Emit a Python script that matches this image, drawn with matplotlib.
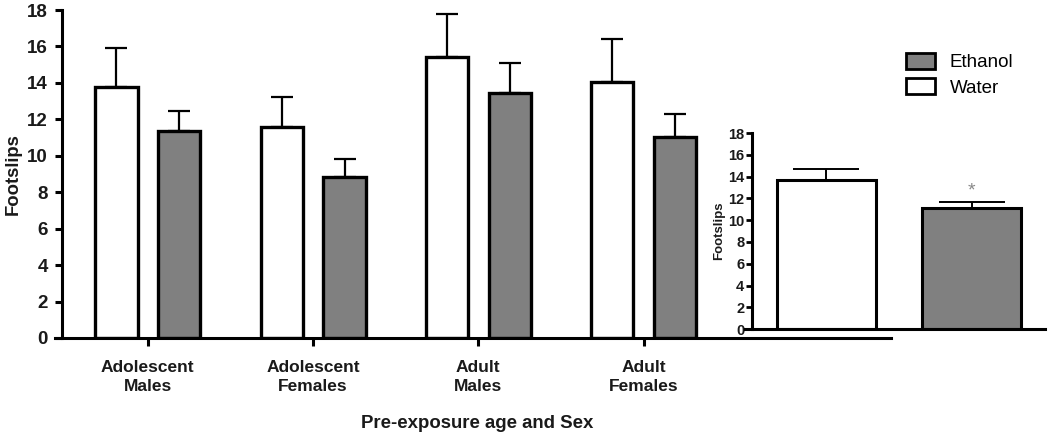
import numpy as np
import matplotlib as mpl
mpl.use('Agg')
import matplotlib.pyplot as plt
from matplotlib.patches import Patch

mpl.rc('font', family='Liberation Sans')
mpl.rc('axes', linewidth=2.2)

# --- data -------------------------------------------------
groups = ['Adolescent\nMales', 'Adolescent\nFemales', 'Adult\nMales', 'Adult\nFemales']
water = [13.8, 11.6, 15.4, 14.05]
water_err = [2.1, 1.6, 2.4, 2.35]
ethanol = [11.35, 8.85, 13.45, 11.05]
ethanol_err = [1.1, 0.95, 1.65, 1.25]

pooled_labels = ['Water', 'Ethanol']
pooled = [13.7, 11.1]
pooled_err = [1.0, 0.6]

grey = '#808080'
ink = '#1a1a1a'

fig = plt.figure(figsize=(10.5, 4.33), dpi=100)

# --- main panel -------------------------------------------
ax = fig.add_axes([0.059, 0.2194, 0.79, 0.7575])
x = np.arange(len(groups))
off, bw = 0.19, 0.255
ax.bar(x - off, water, bw, color='white', edgecolor='black', linewidth=2.4, zorder=2)
ax.bar(x + off, ethanol, bw, color=grey, edgecolor='black', linewidth=2.4, zorder=2)
ax.errorbar(x - off, water, yerr=[np.zeros(4), water_err], fmt='none',
            ecolor='black', elinewidth=1.6, capsize=8, capthick=1.6, zorder=1)
ax.errorbar(x + off, ethanol, yerr=[np.zeros(4), ethanol_err], fmt='none',
            ecolor='black', elinewidth=1.6, capsize=8, capthick=1.6, zorder=1)

ax.set_xlim(-0.52, 4.50)
ax.set_ylim(0, 18)
ax.set_yticks(range(0, 19, 2))
ax.set_xticks(x)
ax.set_xticklabels(groups, fontsize=12.5, fontweight='bold', color=ink, linespacing=1.35)
for lab in ax.get_yticklabels():
    lab.set_fontsize(13.5)
    lab.set_fontweight('bold')
    lab.set_color(ink)
ax.tick_params(axis='y', direction='out', length=5, width=2.2, pad=5)
ax.tick_params(axis='x', direction='out', length=6, width=2.2, pad=10)
ax.spines['top'].set_visible(False)
ax.spines['right'].set_visible(False)
ax.spines['bottom'].set_bounds(-0.52 - 7 / 165, 4.50)
ax.set_ylabel('Footslips', fontsize=13.3, fontweight='bold', color=ink, labelpad=4)
ax.set_xlabel('Pre-exposure age and Sex', fontsize=13.4, fontweight='bold', color=ink, labelpad=15)

# --- inset: pooled ----------------------------------------
ins = fig.add_axes([0.716, 0.240, 0.279, 0.4527])
px = np.arange(2)
ins.bar(px, pooled, 0.68, color=['white', grey], edgecolor='black', linewidth=2.2, zorder=2)
ins.errorbar(px, pooled, yerr=[np.zeros(2), pooled_err], fmt='none',
             ecolor='black', elinewidth=1.4, capsize=24, capthick=1.4, zorder=1)
ins.text(1, pooled[1] + pooled_err[1] + 0.2, '*', ha='center', va='bottom',
         fontsize=14, color='#888888')
ins.set_xlim(-0.51, 1.50)
ins.set_ylim(0, 18)
ins.set_yticks(range(0, 19, 2))
ins.set_xticks([])
ins.patch.set_alpha(0)
for lab in ins.get_yticklabels():
    lab.set_fontsize(10.5)
    lab.set_fontweight('bold')
    lab.set_color(ink)
ins.tick_params(axis='y', direction='out', length=4, width=2, pad=1.5)
ins.spines['top'].set_visible(False)
ins.spines['right'].set_visible(False)
ins.spines['bottom'].set_bounds(-0.51 - 7 / 146, 1.50)
ins.set_ylabel('Footslips', fontsize=9.5, fontweight='bold', color=ink, labelpad=2)

# --- legend -----------------------------------------------
handles = [Patch(facecolor=grey, edgecolor='black', linewidth=2),
           Patch(facecolor='white', edgecolor='black', linewidth=2)]
fig.legend(handles, ['Ethanol', 'Water'], loc='upper left',
           bbox_to_anchor=(0.856, 0.895), frameon=False, fontsize=13.5,
           handlelength=1.55, handleheight=0.95, handletextpad=0.75,
           labelspacing=0.35, borderaxespad=0)

plt.savefig('out.png')
